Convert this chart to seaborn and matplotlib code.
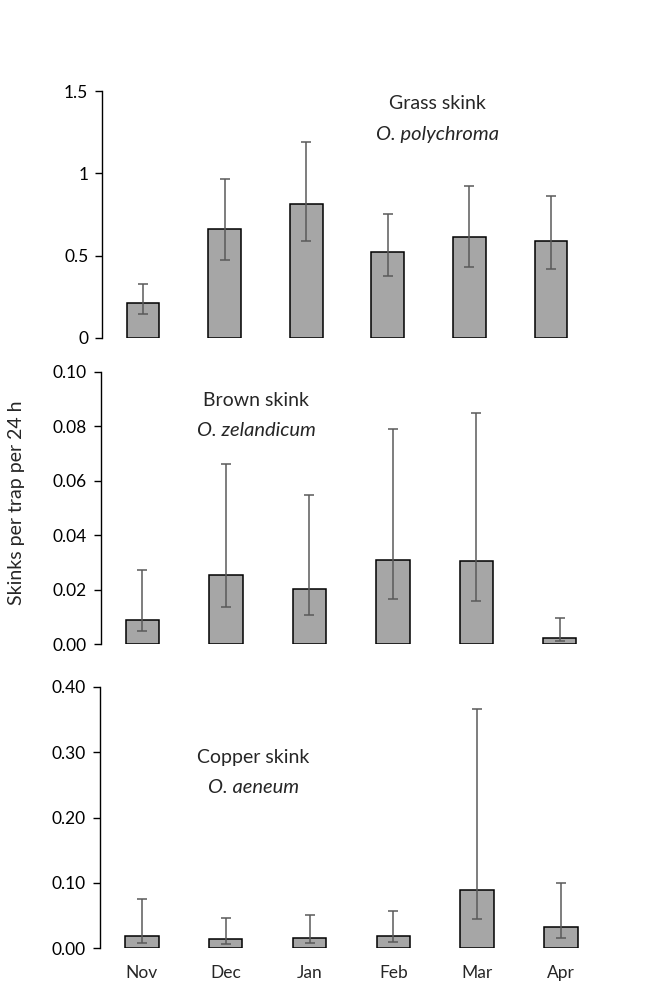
import matplotlib
matplotlib.use('Agg')
import matplotlib.pyplot as plt
import numpy as np
import pandas as pd
import seaborn as sns

# Data
months = ['Nov', 'Dec', 'Jan', 'Feb', 'Mar', 'Apr']

grass_mean = [0.213, 0.661, 0.815, 0.519, 0.614, 0.588]
grass_upper = [0.326, 0.965, 1.192, 0.752, 0.924, 0.864]
grass_lower = [0.148, 0.476, 0.586, 0.377, 0.430, 0.418]

brown_mean = [0.0090, 0.0254, 0.0202, 0.0311, 0.0304, 0.0024]
brown_upper = [0.0271, 0.0663, 0.0548, 0.0789, 0.0847, 0.0098]
brown_lower = [0.0048, 0.0136, 0.0106, 0.0167, 0.0159, 0.0013]

copper_mean = [0.0183, 0.0148, 0.0163, 0.0194, 0.0887, 0.0326]
copper_upper = [0.0754, 0.0459, 0.0515, 0.0566, 0.366, 0.0994]
copper_lower = [0.0087, 0.0071, 0.0076, 0.0092, 0.0443, 0.0163]

sns.set_style('white')
plt.rcParams['font.family'] = ['Lato', 'DejaVu Sans']

fig = plt.figure(figsize=(6.51, 9.85), dpi=100)

panels = [
    dict(mean=grass_mean, upper=grass_upper, lower=grass_lower,
         rect=[0.157, 0.657, 0.752, 0.2505], ylim=1.5,
         yticks=[0, 0.5, 1, 1.5], ylabels=['0', '0.5', '1', '1.5'],
         name='Grass skink', latin='O. polychroma', tx=0.684, ty=(0.951, 0.824)),
    dict(mean=brown_mean, upper=brown_upper, lower=brown_lower,
         rect=[0.1547, 0.3459, 0.7693, 0.2767], ylim=0.10,
         yticks=[0, 0.02, 0.04, 0.06, 0.08, 0.10],
         ylabels=['0.00', '0.02', '0.04', '0.06', '0.08', '0.10'],
         name='Brown skink', latin='O. zelandicum', tx=0.311, ty=(0.896, 0.786)),
    dict(mean=copper_mean, upper=copper_upper, lower=copper_lower,
         rect=[0.1536, 0.0373, 0.7724, 0.2655], ylim=0.40,
         yticks=[0, 0.1, 0.2, 0.3, 0.4],
         ylabels=['0.00', '0.10', '0.20', '0.30', '0.40'],
         name='Copper skink', latin='O. aeneum', tx=0.305, ty=(0.729, 0.614)),
]

for i, p in enumerate(panels):
    ax = fig.add_axes(p['rect'])
    df = pd.DataFrame({'month': months, 'value': p['mean']})
    sns.barplot(data=df, x='month', y='value', ax=ax, width=0.4,
                color='#a6a6a6', edgecolor='black', linewidth=1.1,
                errorbar=None, saturation=1)
    mean = np.array(p['mean'])
    yerr = [mean - np.array(p['lower']), np.array(p['upper']) - mean]
    ax.errorbar(np.arange(len(months)), mean, yerr=yerr, fmt='none',
                ecolor='#5a5a5a', elinewidth=1.1, capsize=3.5, capthick=1.1)
    ax.set_xlim(-0.5, 5.5)
    ax.set_ylim(0, p['ylim'])
    ax.set_yticks(p['yticks'])
    ax.set_yticklabels(p['ylabels'])
    ax.set_xlabel('')
    ax.set_ylabel('')
    sns.despine(ax=ax, top=True, right=True, bottom=True)
    ax.spines['left'].set_linewidth(1.0)
    ax.spines['left'].set_color('black')
    ax.tick_params(axis='y', direction='out', length=5, width=1,
                   labelsize=12.5, pad=5, left=True, colors='black')
    if i == 2:
        ax.tick_params(axis='x', length=0, labelsize=12.5, pad=12)
    else:
        ax.tick_params(axis='x', length=0, labelbottom=False)
    ax.text(p['tx'], p['ty'][0], p['name'], transform=ax.transAxes,
            ha='center', va='center', fontsize=14)
    ax.text(p['tx'], p['ty'][1], p['latin'], transform=ax.transAxes,
            ha='center', va='center', fontsize=14.5, style='italic')

fig.text(0.025, 0.49, 'Skinks per trap per 24 h', rotation=90,
         ha='center', va='center', fontsize=14)

fig.savefig('out.png', dpi=100)
